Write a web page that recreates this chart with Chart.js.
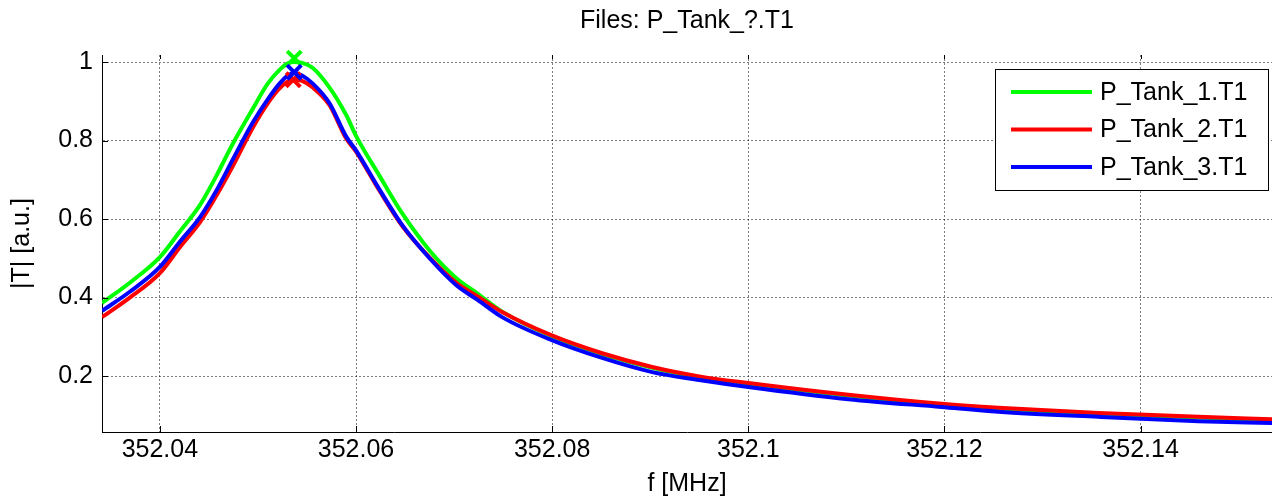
<!DOCTYPE html>
<html>
<head>
<meta charset="utf-8">
<title>P_Tank</title>
<script src="https://cdn.jsdelivr.net/npm/chart.js@4.4.0/dist/chart.umd.min.js"></script>
<style>
    html, body { margin: 0; padding: 0; background: #fff; }
    #wrap { width: 1272px; height: 499px; }
</style>
</head>
<body>
<div id="wrap"><canvas id="chart" width="1272" height="499"></canvas></div>
<script>
// frequency samples [MHz]
const freq = [352.0341, 352.0369, 352.0400, 352.0420, 352.0441, 352.0458, 352.0474, 352.0495,
    352.0510, 352.0522, 352.0530, 352.0537, 352.0545, 352.0556, 352.0573, 352.0590, 352.0600,
    352.0624, 352.0647, 352.0675, 352.0702, 352.0724, 352.0749, 352.0799, 352.0851, 352.0902,
    352.0950, 352.1000, 352.1102, 352.1197, 352.1255, 352.1357, 352.1459, 352.1534];

// |T|
const tank1 = [0.386, 0.437, 0.503, 0.567, 0.636, 0.712, 0.790, 0.882,
    0.945, 0.980, 0.996, 1.000, 0.998, 0.985, 0.935, 0.865, 0.812,
    0.710, 0.615, 0.520, 0.450, 0.410, 0.364, 0.302, 0.256, 0.221,
    0.197, 0.180, 0.150, 0.127, 0.117, 0.104, 0.094, 0.088];
const tank2 = [0.350, 0.399, 0.462, 0.527, 0.592, 0.661, 0.733, 0.834,
    0.895, 0.933, 0.950, 0.955, 0.952, 0.935, 0.890, 0.805, 0.772,
    0.672, 0.583, 0.502, 0.438, 0.403, 0.363, 0.304, 0.258, 0.223,
    0.199, 0.182, 0.152, 0.129, 0.119, 0.106, 0.096, 0.090];
const tank3 = [0.366, 0.414, 0.478, 0.541, 0.605, 0.674, 0.750, 0.847,
    0.905, 0.945, 0.965, 0.972, 0.966, 0.945, 0.895, 0.810, 0.775,
    0.675, 0.585, 0.500, 0.432, 0.394, 0.350, 0.292, 0.246, 0.210,
    0.190, 0.172, 0.141, 0.121, 0.109, 0.096, 0.085, 0.080];

// peak markers (x)
const peakFreq = [352.0537, 352.0536, 352.0537];
const peakVal = [1.010, 0.955, 0.974];

const seriesNames = ['P_Tank_1.T1', 'P_Tank_2.T1', 'P_Tank_3.T1'];
const seriesColors = ['#00ff00', '#ff0000', '#0000ff'];

const xTicks = [352.04, 352.06, 352.08, 352.1, 352.12, 352.14];
const yTicks = [0.2, 0.4, 0.6, 0.8, 1];

const FONT = '"Liberation Sans", Arial, Helvetica, sans-serif';
Chart.defaults.font.family = FONT;
Chart.defaults.color = '#000';

const toPoints = (vals) => freq.map((f, i) => ({ x: f, y: vals[i] }));

const datasets = [tank1, tank2, tank3].map((vals, i) => ({
    label: seriesNames[i],
    data: toPoints(vals),
    borderColor: seriesColors[i],
    backgroundColor: seriesColors[i],
    borderWidth: 4,
    pointRadius: 0,
    cubicInterpolationMode: 'monotone',
    order: 6 - i
}));

seriesColors.forEach((c, i) => {
    datasets.push({
        label: 'peak' + (i + 1),
        data: [{ x: peakFreq[i], y: peakVal[i] }],
        showLine: false,
        clip: false,
        pointStyle: 'crossRot',
        pointRadius: 10,
        pointBorderWidth: 4,
        borderColor: c,
        backgroundColor: c,
        order: 3 - i
    });
});

// MATLAB style inward tick marks
const innerTicks = {
    id: 'innerTicks',
    afterDraw(chart) {
        const { ctx, chartArea, scales } = chart;
        ctx.save();
        ctx.strokeStyle = '#000';
        ctx.lineWidth = 1;
        ctx.beginPath();
        xTicks.forEach(v => {
            const px = Math.round(scales.x.getPixelForValue(v)) + 0.5;
            ctx.moveTo(px, chartArea.bottom);
            ctx.lineTo(px, chartArea.bottom - 6);
            ctx.moveTo(px, chartArea.top);
            ctx.lineTo(px, chartArea.top + 4);
        });
        yTicks.forEach(v => {
            const py = Math.round(scales.y.getPixelForValue(v)) + 0.5;
            ctx.moveTo(chartArea.left, py);
            ctx.lineTo(chartArea.left + 6, py);
        });
        ctx.stroke();
        ctx.restore();
    }
};

// boxed legend in the upper right corner
const boxLegend = {
    id: 'boxLegend',
    afterDraw(chart) {
        const { ctx } = chart;
        const left = 995, top = 69, right = 1268, bottom = 190;
        ctx.save();
        ctx.fillStyle = '#fff';
        ctx.fillRect(left, top, right - left, bottom - top);
        ctx.strokeStyle = '#000';
        ctx.lineWidth = 1;
        ctx.strokeRect(left + 0.5, top + 0.5, right - left, bottom - top);
        ctx.font = '25px ' + FONT;
        ctx.textBaseline = 'middle';
        ctx.fillStyle = '#000';
        seriesNames.forEach((name, i) => {
            const y = 92 + i * 37.5;
            ctx.strokeStyle = seriesColors[i];
            ctx.lineWidth = 4;
            ctx.beginPath();
            ctx.moveTo(1011, y);
            ctx.lineTo(1092, y);
            ctx.stroke();
            ctx.fillText(name, 1100, y + 1);
        });
        ctx.restore();
    }
};

const fmt = (v) => String(Number(v.toFixed(3)));

new Chart(document.getElementById('chart'), {
    type: 'line',
    data: { datasets },
    plugins: [innerTicks, boxLegend],
    options: {
        responsive: false,
        animation: false,
        layout: { padding: 0, autoPadding: false },
        plugins: {
            legend: { display: false },
            tooltip: { enabled: false },
            title: {
                display: true,
                text: 'Files: P_Tank_?.T1',
                fullSize: false,
                font: { size: 25, weight: 'normal', lineHeight: 1.2 },
                color: '#000',
                padding: { top: 6, bottom: 19 }
            }
        },
        scales: {
            x: {
                type: 'linear',
                min: 352.0341,
                max: 352.1534,
                afterBuildTicks: (axis) => { axis.ticks = xTicks.map(v => ({ value: v })); },
                afterFit: (axis) => { axis.height = 67; axis.paddingLeft = 0; axis.paddingRight = 0; },
                ticks: { font: { size: 25 }, padding: 3, callback: fmt, maxRotation: 0, autoSkip: false },
                grid: { color: 'rgba(0,0,0,0.5)', lineWidth: 1, drawTicks: false },
                border: { display: true, color: '#000', width: 1, dash: [2, 2] },
                title: { display: true, text: 'f [MHz]', font: { size: 25 }, padding: { top: 0, bottom: 0 } }
            },
            y: {
                min: 0.0573,
                max: 1.018,
                afterBuildTicks: (axis) => { axis.ticks = yTicks.map(v => ({ value: v })); },
                afterFit: (axis) => { axis.width = 102; },
                ticks: { font: { size: 25 }, padding: 9, callback: fmt, autoSkip: false },
                grid: { color: 'rgba(0,0,0,0.5)', lineWidth: 1, drawTicks: false },
                border: { display: true, color: '#000', width: 1, dash: [2, 2] },
                title: { display: true, text: '|T| [a.u.]', font: { size: 25 }, padding: { top: 7, bottom: 0 } }
            }
        }
    }
});
</script>
</body>
</html>
